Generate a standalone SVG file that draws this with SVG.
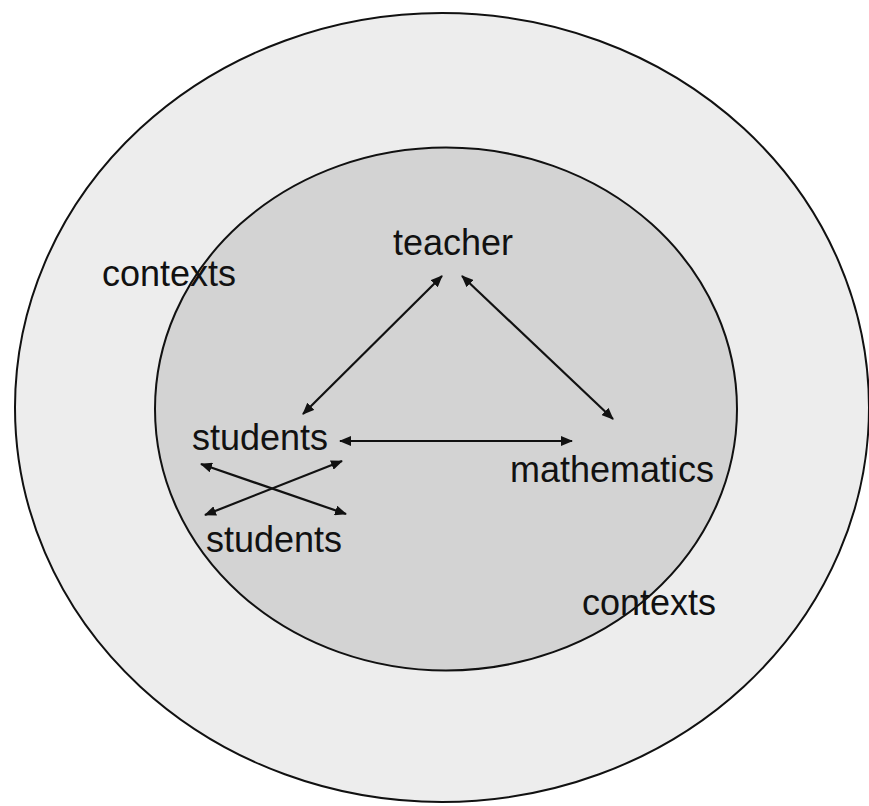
<svg xmlns="http://www.w3.org/2000/svg" width="869" height="806" viewBox="0 0 869 806">
<style>
.lbl{font-family:"Liberation Sans",Arial,sans-serif;font-size:36px;fill:#111}
.ring{stroke:#111;stroke-width:2}
.conn line{stroke:#111;stroke-width:2.2;marker-start:url(#ah);marker-end:url(#ah)}
</style>
<defs>
<marker id="ah" viewBox="0 0 12 10" refX="11" refY="5" markerWidth="12" markerHeight="10" markerUnits="userSpaceOnUse" orient="auto-start-reverse">
<path d="M0,0 L12,5 L0,10 Z" fill="#111"/>
</marker>
</defs>
<rect width="869" height="806" fill="#fff"/>
<g id="outer-context">
<ellipse class="ring" cx="442" cy="407.5" rx="427" ry="394.5" fill="#ededed"/>
</g>
<g id="inner-context">
<ellipse class="ring" cx="446" cy="409" rx="291" ry="261.5" fill="#d3d3d3"/>
</g>
<g id="contexts-outer"><text class="lbl" x="102" y="286">contexts</text></g>
<g id="contexts-inner"><text class="lbl" x="582" y="615">contexts</text></g>
<g id="teacher"><text class="lbl" x="393" y="255">teacher</text></g>
<g id="students-top"><text class="lbl" x="192" y="450">students</text></g>
<g id="students-bottom"><text class="lbl" x="206" y="552">students</text></g>
<g id="mathematics"><text class="lbl" x="510" y="482">mathematics</text></g>
<g id="connectors" class="conn">
<line x1="442" y1="276" x2="303" y2="414"/>
<line x1="462" y1="276" x2="613" y2="419"/>
<line x1="340" y1="441" x2="572" y2="441"/>
<line x1="201" y1="464" x2="346" y2="514"/>
<line x1="342" y1="461" x2="205" y2="515"/>
</g>
</svg>
